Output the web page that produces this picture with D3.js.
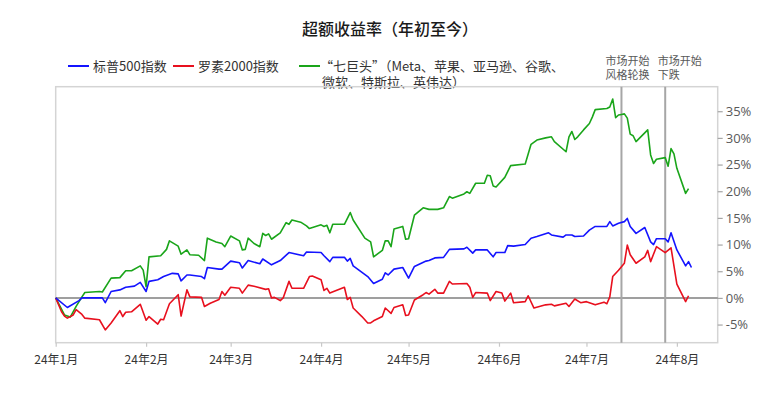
<!DOCTYPE html>
<html>
<head>
<meta charset="utf-8">
<script src="https://cdn.jsdelivr.net/npm/d3@7"></script>
<style>
  body { margin: 0; background: #fff; }
  svg text { font-family: "Noto Sans CJK SC", "Noto Sans", sans-serif; }
</style>
</head>
<body>
<div id="chart"></div>
<script>
// month ticks along the bottom
const monthTicks = ["01-01", "02-01", "03-01", "04-01", "05-01", "06-01", "07-01", "08-01"];
const monthLabels = ["24年1月", "24年2月", "24年3月", "24年4月", "24年5月", "24年6月", "24年7月", "24年8月"];
const yTickValues = [-5, 0, 5, 10, 15, 20, 25, 30, 35];

// vertical markers
const eventDates = ["07-13", "07-28"];
const eventLabels = [["市场开始", "风格轮换"], ["市场开始", "下跌"]];

// excess return YTD, %
const sp500 = [
  ["01-01", 0], ["01-05", -1.8], ["01-09", -0.5], ["01-10", 0], ["01-17", 0], ["01-18", -0.9],
  ["01-20", 1.2], ["01-23", 1.5], ["01-25", 2.0], ["01-28", 2.2], ["01-30", 2.9], ["02-01", 1.2],
  ["02-02", 3.1], ["02-05", 3.4], ["02-07", 4.0], ["02-10", 4.6], ["02-12", 4.5], ["02-13", 3.2],
  ["02-15", 4.3], ["02-16", 4.3], ["02-20", 4.0], ["02-21", 3.6], ["02-22", 5.7], ["02-26", 5.4],
  ["02-27", 5.4], ["03-01", 6.9], ["03-04", 6.6], ["03-05", 5.6], ["03-07", 7.0], ["03-11", 6.4],
  ["03-12", 7.3], ["03-15", 6.2], ["03-18", 7.0], ["03-21", 8.5], ["03-26", 7.9], ["03-27", 8.6],
  ["04-01", 8.5], ["04-02", 7.9], ["04-04", 6.8], ["04-05", 7.6], ["04-09", 7.6], ["04-10", 6.9],
  ["04-11", 7.4], ["04-12", 6.0], ["04-17", 4.0], ["04-19", 2.7], ["04-22", 3.5], ["04-23", 4.7],
  ["04-24", 4.3], ["04-26", 5.4], ["04-29", 5.7], ["05-01", 3.7], ["05-03", 5.9], ["05-07", 6.9],
  ["05-08", 7.0], ["05-10", 7.5], ["05-13", 7.6], ["05-15", 9.1], ["05-20", 9.2], ["05-21", 9.5],
  ["05-23", 8.4], ["05-24", 9.0], ["05-28", 9.0], ["05-30", 7.7], ["05-31", 8.5], ["06-03", 8.5],
  ["06-04", 9.8], ["06-06", 9.7], ["06-10", 10.0], ["06-12", 11.2], ["06-14", 11.5], ["06-18", 12.2],
  ["06-19", 11.8], ["06-23", 11.4], ["06-24", 11.8], ["06-26", 11.8], ["06-27", 11.5], ["06-30", 11.6],
  ["07-02", 12.7], ["07-04", 13.4], ["07-08", 13.4], ["07-09", 14.3], ["07-10", 13.5], ["07-12", 14.0],
  ["07-14", 14.3], ["07-15", 14.9], ["07-16", 13.4], ["07-18", 12.1], ["07-21", 13.2], ["07-23", 10.5],
  ["07-24", 10.0], ["07-25", 11.1], ["07-28", 11.1], ["07-29", 10.5], ["07-30", 12.2], ["08-01", 9.0],
  ["08-04", 6.0], ["08-05", 6.8], ["08-06", 5.7]
];

const russell2000 = [
  ["01-01", 0], ["01-03", -2.6], ["01-04", -3.4], ["01-05", -3.8], ["01-07", -3.2], ["01-08", -2.2],
  ["01-10", -3.1], ["01-11", -3.8], ["01-16", -4.1], ["01-18", -6.0], ["01-20", -4.7], ["01-23", -2.4],
  ["01-24", -3.5], ["01-25", -2.7], ["01-27", -2.6], ["01-30", -1.2], ["02-01", -4.2], ["02-02", -3.5],
  ["02-05", -4.9], ["02-06", -4.0], ["02-07", -4.1], ["02-09", -1.1], ["02-12", 0.6], ["02-13", -3.4],
  ["02-15", 1.5], ["02-16", 0.2], ["02-20", 0.1], ["02-21", -1.6], ["02-23", -1.0], ["02-26", -0.3],
  ["02-27", 1.2], ["02-28", 0.5], ["03-01", 2.0], ["03-04", 1.8], ["03-05", 0.9], ["03-07", 2.4],
  ["03-09", 2.2], ["03-13", 1.6], ["03-14", 1.7], ["03-15", 0], ["03-16", 0.1], ["03-18", -0.5],
  ["03-19", 0.0], ["03-21", 3.1], ["03-22", 1.8], ["03-26", 1.8], ["03-28", 4.0], ["03-29", 4.1],
  ["04-01", 3.4], ["04-02", 1.4], ["04-03", 1.8], ["04-04", 0.9], ["04-09", 2.0], ["04-10", -0.3],
  ["04-11", 0.1], ["04-12", -1.9], ["04-15", -3.5], ["04-17", -4.7], ["04-18", -4.7], ["04-19", -4.3],
  ["04-22", -3.5], ["04-23", -1.9], ["04-25", -2.9], ["04-26", -1.8], ["04-29", -1.3], ["04-30", -3.3],
  ["05-01", -3.2], ["05-03", -0.4], ["05-06", 0.6], ["05-07", 1.0], ["05-08", 0.7], ["05-10", 1.6],
  ["05-11", 0.9], ["05-13", 0.9], ["05-15", 3.1], ["05-16", 2.6], ["05-21", 2.7], ["05-22", 2.0],
  ["05-23", 0.1], ["05-24", 1.0], ["05-28", 0.9], ["05-29", -0.5], ["05-31", 1.2], ["06-02", 0.9],
  ["06-03", -0.6], ["06-05", 0.9], ["06-06", -0.9], ["06-10", -0.7], ["06-11", 0.4], ["06-13", -1.9],
  ["06-17", -1.3], ["06-19", -1.2], ["06-20", -1.5], ["06-24", -1.0], ["06-25", -1.6], ["06-27", -0.2],
  ["06-29", -0.9], ["07-01", -0.7], ["07-02", -0.9], ["07-04", -1.3], ["07-07", -0.8], ["07-08", -1.1],
  ["07-09", 0.2], ["07-10", 4.0], ["07-12", 5.2], ["07-14", 6.5], ["07-15", 9.9], ["07-16", 8.1],
  ["07-18", 6.5], ["07-21", 7.7], ["07-22", 8.9], ["07-23", 6.8], ["07-25", 9.6], ["07-28", 8.5],
  ["07-30", 9.4], ["08-01", 2.6], ["08-04", -0.7], ["08-05", 0.4]
];

const magnificent7 = [
  ["01-01", 0], ["01-04", -3.2], ["01-06", -3.6], ["01-08", -1.6], ["01-10", 0.2], ["01-11", 1.0],
  ["01-16", 1.2], ["01-17", 1.1], ["01-20", 3.7], ["01-23", 3.8], ["01-25", 5.1], ["01-27", 5.1],
  ["01-30", 6.0], ["01-31", 5.2], ["02-01", 2.1], ["02-02", 7.7], ["02-06", 7.9], ["02-08", 9.1],
  ["02-09", 10.7], ["02-12", 9.7], ["02-13", 8.2], ["02-15", 9.0], ["02-16", 8.1], ["02-19", 8.0],
  ["02-21", 7.0], ["02-22", 11.2], ["02-25", 10.5], ["02-27", 10.2], ["02-28", 9.6], ["03-01", 11.6],
  ["03-04", 10.7], ["03-05", 9.0], ["03-06", 9.1], ["03-07", 11.2], ["03-09", 10.2], ["03-11", 9.6],
  ["03-12", 12.1], ["03-13", 11.7], ["03-14", 12.0], ["03-15", 11.0], ["03-18", 12.2], ["03-20", 14.1],
  ["03-21", 13.8], ["03-22", 14.6], ["03-25", 14.2], ["03-27", 13.5], ["03-28", 13.0], ["04-01", 13.7],
  ["04-02", 13.4], ["04-03", 13.6], ["04-04", 12.2], ["04-05", 13.8], ["04-09", 13.8], ["04-11", 16.0],
  ["04-12", 14.6], ["04-16", 11.2], ["04-18", 10.5], ["04-19", 7.7], ["04-22", 8.9], ["04-23", 10.7],
  ["04-24", 10.7], ["04-25", 9.6], ["04-26", 12.9], ["04-29", 13.4], ["04-30", 11.0], ["05-01", 11.1],
  ["05-03", 15.5], ["05-06", 16.9], ["05-08", 16.6], ["05-11", 16.6], ["05-13", 16.9], ["05-15", 19.0],
  ["05-16", 18.7], ["05-20", 19.5], ["05-21", 19.9], ["05-22", 19.6], ["05-24", 21.5], ["05-27", 21.5],
  ["05-28", 23.0], ["05-29", 22.9], ["05-30", 21.0], ["05-31", 20.8], ["06-03", 22.6], ["06-05", 24.8],
  ["06-10", 25.1], ["06-12", 28.8], ["06-14", 29.6], ["06-17", 30.0], ["06-19", 30.2], ["06-20", 29.3],
  ["06-24", 27.4], ["06-25", 30.2], ["06-26", 31.2], ["06-27", 29.7], ["06-28", 30.2], ["06-30", 31.5],
  ["07-02", 32.7], ["07-03", 33.9], ["07-04", 35.3], ["07-08", 35.5], ["07-09", 35.8], ["07-10", 37.3],
  ["07-11", 33.8], ["07-12", 34.3], ["07-13", 34.4], ["07-14", 34.5], ["07-15", 33.7], ["07-16", 30.7],
  ["07-17", 30.4], ["07-18", 29.3], ["07-22", 31.5], ["07-23", 26.8], ["07-24", 25.2], ["07-25", 26.0],
  ["07-28", 26.3], ["07-29", 24.7], ["07-30", 28.0], ["07-31", 27.0], ["08-01", 24.3], ["08-04", 19.6],
  ["08-05", 20.5]
];

const seriesNames = ["标普500指数", "罗素2000指数", "“七巨头”（Meta、苹果、亚马逊、谷歌、"];
const seriesNameLine2 = "微软、特斯拉、英伟达）";
const seriesColors = ["#1414ff", "#e8101e", "#1aa51a"];

const width = 779, height = 399;
const margin = { top: 86.7, right: 61.3, bottom: 56.3, left: 55.7 };
const innerWidth = width - margin.left - margin.right;
const innerHeight = height - margin.top - margin.bottom;

const parseDay = d3.timeParse("%Y-%m-%d");
const toDate = s => parseDay("2024-" + s);

const svg = d3.select("#chart").append("svg")
  .attr("width", width)
  .attr("height", height);

svg.append("text")
  .attr("x", 390).attr("y", 28)
  .attr("text-anchor", "middle")
  .attr("dominant-baseline", "central")
  .attr("font-size", 16)
  .attr("font-weight", 500)
  .attr("fill", "#1a1a1a")
  .text("超额收益率（年初至今）");

// legend
const legendX = [68, 173, 299];
const legend = svg.append("g").attr("class", "legend");
seriesNames.forEach((name, i) => {
  legend.append("line")
    .attr("x1", legendX[i]).attr("x2", legendX[i] + 21)
    .attr("y1", 66).attr("y2", 66)
    .attr("stroke", seriesColors[i]).attr("stroke-width", 2);
  legend.append("text")
    .attr("x", legendX[i] + (i == 2 ? 21 : 25)).attr("y", 65.5)
    .attr("dominant-baseline", "central")
    .attr("font-size", 13).attr("fill", "#333")
    .text(name);
});
legend.append("text")
  .attr("x", 322).attr("y", 81.5)
  .attr("dominant-baseline", "central")
  .attr("font-size", 13).attr("fill", "#333")
  .text(seriesNameLine2);

const g = svg.append("g")
  .attr("transform", `translate(${margin.left}, ${margin.top})`);

const x = d3.scaleTime()
  .domain([toDate("01-01"), toDate("08-15")])
  .range([0, innerWidth]);

const y = d3.scaleLinear()
  .domain([-8.4, 39.6])
  .range([innerHeight, 0]);

// frame
g.append("rect")
  .attr("width", innerWidth).attr("height", innerHeight)
  .attr("fill", "none").attr("stroke", "#d4d4d4").attr("stroke-width", 1.5);

// axes
const xAxis = g.append("g")
  .attr("class", "axis-x")
  .attr("transform", `translate(0, ${innerHeight})`)
  .call(d3.axisBottom(x)
    .tickValues(monthTicks.map(toDate))
    .tickSize(4).tickPadding(9)
    .tickFormat((d, i) => monthLabels[i]));
xAxis.select(".domain").remove();
xAxis.selectAll("line").attr("stroke", "#c8c8c8").attr("stroke-width", 1.2);
xAxis.selectAll("text").attr("font-size", 12).attr("fill", "#333")
  .style("font-family", "'Noto Sans CJK SC', sans-serif");

const yAxis = g.append("g")
  .attr("class", "axis-y")
  .attr("transform", `translate(${innerWidth}, 0)`)
  .call(d3.axisRight(y)
    .tickValues(yTickValues)
    .tickSize(5).tickPadding(3)
    .tickFormat(d => d + "%"));
yAxis.select(".domain").remove();
yAxis.selectAll("line").attr("stroke", "#a6a6a6").attr("stroke-width", 1.2);
yAxis.selectAll("text").attr("font-size", 13).attr("fill", "#595959")
  .style("font-family", "'Open Sans', 'Noto Sans', sans-serif");

// zero line
g.append("line")
  .attr("x1", 0).attr("x2", innerWidth)
  .attr("y1", y(0)).attr("y2", y(0))
  .attr("stroke", "#7f7f7f").attr("stroke-width", 1.5);

// event markers
const labelOffsets = [-16, -7.5];
eventDates.forEach((d, i) => {
  const ex = x(toDate(d));
  g.append("line")
    .attr("x1", ex).attr("x2", ex)
    .attr("y1", 0).attr("y2", innerHeight)
    .attr("stroke", "#a6a6a6").attr("stroke-width", 2);
  eventLabels[i].forEach((t, j) => {
    svg.append("text")
      .attr("x", margin.left + ex + labelOffsets[i])
      .attr("y", 59.5 + j * 14.5)
      .attr("dominant-baseline", "central")
      .attr("font-size", 11).attr("fill", "#595959")
      .text(t);
  });
});

// lines
const line = d3.line()
  .x(d => x(toDate(d[0])))
  .y(d => y(d[1]));

[magnificent7, russell2000, sp500].forEach((data, k) => {
  const color = seriesColors[2 - k];
  g.append("path")
    .datum(data)
    .attr("class", "chart-line")
    .attr("fill", "none")
    .attr("stroke", color)
    .attr("stroke-width", 1.6)
    .attr("stroke-linejoin", "round")
    .attr("d", line);
});
</script>
</body>
</html>
